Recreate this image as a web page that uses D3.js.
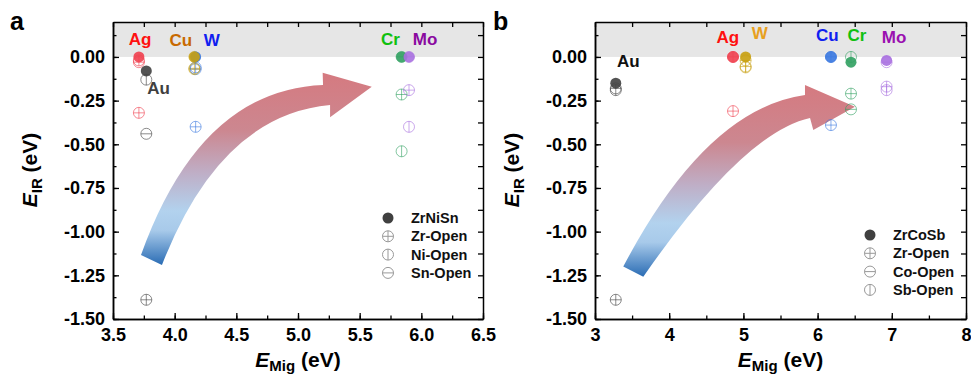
<!DOCTYPE html>
<html>
<head>
<meta charset="utf-8">
<script src="https://cdn.jsdelivr.net/npm/d3@7"></script>
<style>
  body { margin: 0; background: #fff; }
  svg { font-family: "Liberation Sans", Arial, sans-serif; }
</style>
</head>
<body>
<svg id="chart" width="971" height="377"></svg>
<script>
// ---- data: panel a (ZrNiSn) ----
const elemsA = ["Ag", "Au", "W", "Cu", "Cr", "Mo"]
const migA = [3.71, 3.77, 4.17, 4.16, 5.84, 5.90]
const bulkA = [0.00, -0.08, 0.00, 0.00, 0.00, 0.00]
const zrOpenA = [-0.32, -1.39, -0.40, -0.065, -0.215, -0.19]
const niOpenA = [-0.02, -0.13, -0.06, 0.00, -0.54, -0.40]
const snOpenA = [-0.03, -0.44, -0.07, -0.07, 0.00, 0.00]

// ---- data: panel b (ZrCoSb) ----
const elemsB = ["Au", "Ag", "W", "Cu", "Cr", "Mo"]
const migB = [3.28, 4.86, 5.03, 6.18, 6.45, 6.93]
const bulkB = [-0.15, 0.00, 0.00, 0.00, -0.03, -0.02]
const zrOpenB = [-1.39, -0.31, -0.055, -0.39, -0.21, -0.17]
const coOpenB = [-0.18, 0.00, -0.02, 0.00, -0.30, -0.03]
const sbOpenB = [-0.19, 0.00, -0.06, 0.00, 0.00, -0.19]

const yTicks = [0.00, -0.25, -0.50, -0.75, -1.00, -1.25, -1.50]
const xTicksA = [3.5, 4.0, 4.5, 5.0, 5.5, 6.0, 6.5]
const xTicksB = [3, 4, 5, 6, 7, 8]

// label anchor points (data units)
const labelsA = [
  { t: "Ag", x: 3.72, y: 0.07, c: "#ff1010" },
  { t: "Cu", x: 4.05, y: 0.065, c: "#c86a00" },
  { t: "W", x: 4.30, y: 0.065, c: "#1020f0" },
  { t: "Au", x: 3.87, y: -0.21, c: "#404040" },
  { t: "Cr", x: 5.75, y: 0.07, c: "#10c010" },
  { t: "Mo", x: 6.03, y: 0.07, c: "#8a0aa0" }
]
const labelsB = [
  { t: "Au", x: 3.45, y: -0.06, c: "#111111" },
  { t: "Ag", x: 4.79, y: 0.08, c: "#ff1010" },
  { t: "W", x: 5.22, y: 0.10, c: "#e8a020" },
  { t: "Cu", x: 6.13, y: 0.09, c: "#1020f0" },
  { t: "Cr", x: 6.53, y: 0.09, c: "#10c010" },
  { t: "Mo", x: 7.03, y: 0.08, c: "#9a10b0" }
]

const colorsA = { Ag: "#f0404f", Au: "#404040", Cu: "#c8a010", W: "#3a78e0", Cr: "#30a060", Mo: "#a870e0" }
const colorsB = { Au: "#404040", Ag: "#f0404f", W: "#c8a010", Cu: "#3a78e0", Cr: "#30a060", Mo: "#a870e0" }

// arrow outline in data units: outer start, outer ctrl, outer end, head top, tip, head bottom, inner end, inner ctrl, inner start
const arrowA = [[3.727, -1.134], [4.205, -0.189], [5.203, -0.160], [5.200, -0.090], [5.598, -0.170], [5.260, -0.345], [5.260, -0.275], [4.368, -0.332], [3.897, -1.191]]
const arrowB = [[3.381, -1.200], [4.496, -0.298], [5.830, -0.218], [5.830, -0.160], [6.504, -0.285], [5.942, -0.418], [5.898, -0.349], [4.999, -0.433], [3.651, -1.258]]

const svg = d3.select("#chart")
const defs = svg.append("defs")

function markerPath(kind, r) {
  let p = `M${-r},0A${r},${r} 0 1,0 ${r},0A${r},${r} 0 1,0 ${-r},0Z`
  if (kind === "plus" || kind === "h") p += `M${-r},0H${r}`
  if (kind === "plus" || kind === "v") p += `M0,${-r}V${r}`
  return p
}

function drawPanel(cfg) {
  const g = svg.append("g")
  const x = d3.scaleLinear().domain(cfg.xDomain).range([cfg.left, cfg.right])
  const y = d3.scaleLinear().domain([-1.5, 0.2]).range([319, 22])

  // grey band above zero
  g.append("rect")
    .attr("x", x(cfg.xDomain[0])).attr("y", y(0.2))
    .attr("width", x(cfg.xDomain[1]) - x(cfg.xDomain[0]))
    .attr("height", y(0) - y(0.2))
    .attr("fill", "#e6e6e6")

  // gradient arrow
  const gid = "grad" + cfg.id
  const grad = defs.append("linearGradient").attr("id", gid)
    .attr("gradientUnits", "userSpaceOnUse")
    .attr("x1", 0).attr("x2", 0)
    .attr("y1", y(cfg.arrow[3][1])).attr("y2", y(cfg.arrow[8][1]))
  const stops = [[0, "#d57a80"], [0.3, "#cc8790"], [0.52, "#bfaec6"], [0.72, "#b2d2ee"], [0.82, "#a8caea"], [1, "#2a6cb4"]]
  stops.forEach(s => grad.append("stop").attr("offset", s[0]).attr("stop-color", s[1]))
  const P = cfg.arrow.map(d => [x(d[0]), y(d[1])])
  const path = `M${P[0]}Q${P[1]} ${P[2]}L${P[3]}L${P[4]}L${P[5]}L${P[6]}Q${P[7]} ${P[8]}Z`
  g.append("path").attr("d", path).attr("fill", `url(#${gid})`)

  // open markers
  cfg.open.forEach(s => {
    g.append("g").selectAll("path")
      .data(cfg.elems.map((e, i) => ({ e, x: cfg.mig[i], y: s.vals[i] })))
      .join("path")
      .attr("transform", d => `translate(${x(d.x)},${y(d.y)})`)
      .attr("d", markerPath(s.kind, 5.5))
      .attr("fill", "none")
      .attr("stroke", d => cfg.colors[d.e])
      .attr("stroke-opacity", 0.6)
      .attr("stroke-width", 1)
  })

  // filled markers
  g.append("g").selectAll("circle")
    .data(cfg.elems.map((e, i) => ({ e, x: cfg.mig[i], y: cfg.bulk[i] })))
    .join("circle")
    .attr("cx", d => x(d.x)).attr("cy", d => y(d.y)).attr("r", 5.5)
    .attr("fill", d => cfg.colors[d.e])
    .attr("fill-opacity", 0.9)

  // element labels
  g.append("g").selectAll("text")
    .data(cfg.labels)
    .join("text")
    .attr("x", d => x(d.x)).attr("y", d => y(d.y))
    .attr("text-anchor", "middle")
    .attr("font-size", 17).attr("font-weight", "bold")
    .attr("fill", d => d.c)
    .text(d => d.t)

  // axes, ticks inward on all four sides
  const xMinor = d3.range(cfg.xDomain[0], cfg.xDomain[1] + 1e-9, cfg.xMinorStep)
  const yMinor = d3.range(-1.5, 0.2, 0.125)
  const axisStyle = sel => {
    sel.select(".domain").attr("stroke-width", 1.5)
    sel.selectAll(".tick line").attr("stroke-width", 1.3)
    sel.selectAll("text").attr("font-size", 18).attr("font-weight", "bold").attr("fill", "#000")
  }
  g.append("g").attr("transform", `translate(0,${y(-1.5)})`)
    .call(d3.axisBottom(x).tickValues(cfg.xTicks).tickFormat(cfg.xFmt).tickSizeInner(-6).tickSizeOuter(0).tickPadding(9))
    .call(axisStyle)
  g.append("g").attr("transform", `translate(0,${y(-1.5)})`)
    .call(d3.axisBottom(x).tickValues(xMinor).tickFormat("").tickSizeInner(-3.5).tickSizeOuter(0))
    .call(axisStyle)
  g.append("g").attr("transform", `translate(0,${y(0.2)})`)
    .call(d3.axisTop(x).tickValues(xMinor).tickFormat("").tickSizeInner(-5).tickSizeOuter(0))
    .call(axisStyle)
  g.append("g").attr("transform", `translate(${x(cfg.xDomain[0])},0)`)
    .call(d3.axisLeft(y).tickValues(yTicks).tickFormat(d3.format(".2f")).tickSizeInner(-6).tickSizeOuter(0).tickPadding(8))
    .call(axisStyle)
  g.append("g").attr("transform", `translate(${x(cfg.xDomain[0])},0)`)
    .call(d3.axisLeft(y).tickValues(yMinor).tickFormat("").tickSizeInner(-3.5).tickSizeOuter(0))
    .call(axisStyle)
  g.append("g").attr("transform", `translate(${x(cfg.xDomain[1])},0)`)
    .call(d3.axisRight(y).tickValues(yMinor).tickFormat("").tickSizeInner(-5).tickSizeOuter(0))
    .call(axisStyle)
  g.selectAll(".tick text").text(function () { return this.textContent.replace("−", "-") })

  // axis titles
  const cx = (cfg.left + cfg.right) / 2
  const xt = g.append("text").attr("x", cx).attr("y", 367).attr("text-anchor", "middle")
    .attr("font-size", 21).attr("font-weight", "bold")
  xt.append("tspan").attr("font-style", "italic").text("E")
  xt.append("tspan").attr("font-size", 15).attr("dy", 4).text("Mig")
  xt.append("tspan").attr("dy", -4).text(" (eV)")

  const yt = g.append("text").attr("transform", `translate(${cfg.left - 76},170) rotate(-90)`)
    .attr("text-anchor", "middle").attr("font-size", 21).attr("font-weight", "bold")
  yt.append("tspan").attr("font-style", "italic").text("E")
  yt.append("tspan").attr("font-size", 15).attr("dy", 5).text("IR")
  yt.append("tspan").attr("dy", -5).text(" (eV)")

  // panel letter
  g.append("text").attr("x", cfg.letterX).attr("y", 30)
    .attr("font-size", 25).attr("font-weight", "bold").text(cfg.id)

  // legend
  const leg = g.append("g").attr("transform", `translate(${cfg.legX},${cfg.legY})`)
  cfg.legend.forEach((l, i) => {
    const row = leg.append("g").attr("transform", `translate(0,${i * 18.3})`)
    if (l.kind === "fill") {
      row.append("circle").attr("r", 5.5).attr("fill", "#404040")
    } else {
      row.append("path").attr("d", markerPath(l.kind, 5.5)).attr("fill", "none")
        .attr("stroke", "#999").attr("stroke-width", 1)
    }
    row.append("text").attr("x", 23).attr("y", 5).attr("font-size", 14.5)
      .attr("font-weight", "bold").attr("fill", "#111").text(l.t)
  })
}

drawPanel({
  id: "a", left: 113, right: 483, xDomain: [3.5, 6.5], xTicks: xTicksA, xMinorStep: 0.25,
  xFmt: d3.format(".1f"), elems: elemsA, mig: migA, bulk: bulkA, colors: colorsA, labels: labelsA,
  open: [{ kind: "plus", vals: zrOpenA }, { kind: "v", vals: niOpenA }, { kind: "h", vals: snOpenA }],
  arrow: arrowA, letterX: 10, legX: 388, legY: 218,
  legend: [{ t: "ZrNiSn", kind: "fill" }, { t: "Zr-Open", kind: "plus" }, { t: "Ni-Open", kind: "v" }, { t: "Sn-Open", kind: "h" }]
})

drawPanel({
  id: "b", left: 595, right: 966, xDomain: [3, 8], xTicks: xTicksB, xMinorStep: 0.5,
  xFmt: d3.format("d"), elems: elemsB, mig: migB, bulk: bulkB, colors: colorsB, labels: labelsB,
  open: [{ kind: "plus", vals: zrOpenB }, { kind: "h", vals: coOpenB }, { kind: "v", vals: sbOpenB }],
  arrow: arrowB, letterX: 493, legX: 870, legY: 235,
  legend: [{ t: "ZrCoSb", kind: "fill" }, { t: "Zr-Open", kind: "plus" }, { t: "Co-Open", kind: "h" }, { t: "Sb-Open", kind: "v" }]
})
</script>
</body>
</html>
